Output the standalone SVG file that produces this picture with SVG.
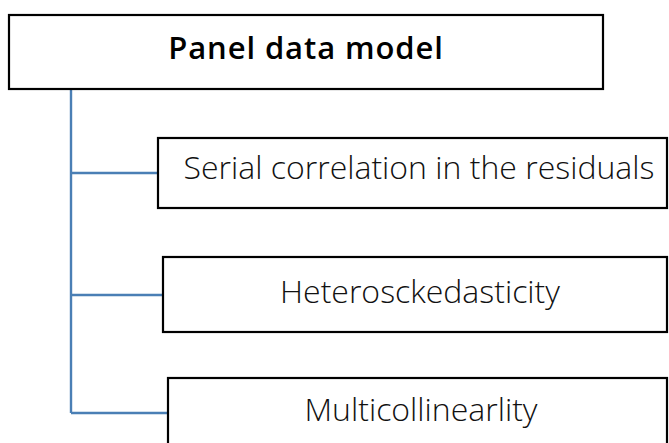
<svg xmlns="http://www.w3.org/2000/svg" width="669" height="443" viewBox="0 0 669 443">
  <style>
    .box { fill: #ffffff; stroke: #000000; stroke-width: 2.2; }
    .label { font-family: "Open Sans", "Noto Sans", "DejaVu Sans", sans-serif; font-size: 32px; font-weight: 300; fill: #111111; text-anchor: middle; }
    .title { font-weight: 600; font-size: 31px; letter-spacing: 0.9px; fill: #000000; }
    .link { fill: none; stroke: #4a7fb5; stroke-width: 2.4; }
  </style>
  <rect width="669" height="443" fill="#ffffff"/>

  <!-- tree connectors -->
  <g id="connectors">
    <path class="link" d="M71 90 V413"/>
    <path class="link" d="M71 173 H158"/>
    <path class="link" d="M71 295 H163"/>
    <path class="link" d="M71 413 H168"/>
  </g>

  <g id="root">
    <rect class="box" x="9" y="15" width="594" height="74"/>
    <text class="label title" x="306" y="59">Panel data model</text>
  </g>

  <g id="serial-correlation">
    <rect class="box" x="158" y="138" width="509" height="70"/>
    <text class="label" x="419" y="179">Serial correlation in the residuals</text>
  </g>

  <g id="heteroskedasticity">
    <rect class="box" x="163" y="257" width="504" height="75"/>
    <text class="label" x="420" y="303">Heterosckedasticity</text>
  </g>

  <g id="multicollinearity">
    <rect class="box" x="168" y="378" width="499" height="90"/>
    <text class="label" x="421" y="421">Multicollinearlity</text>
  </g>
</svg>
